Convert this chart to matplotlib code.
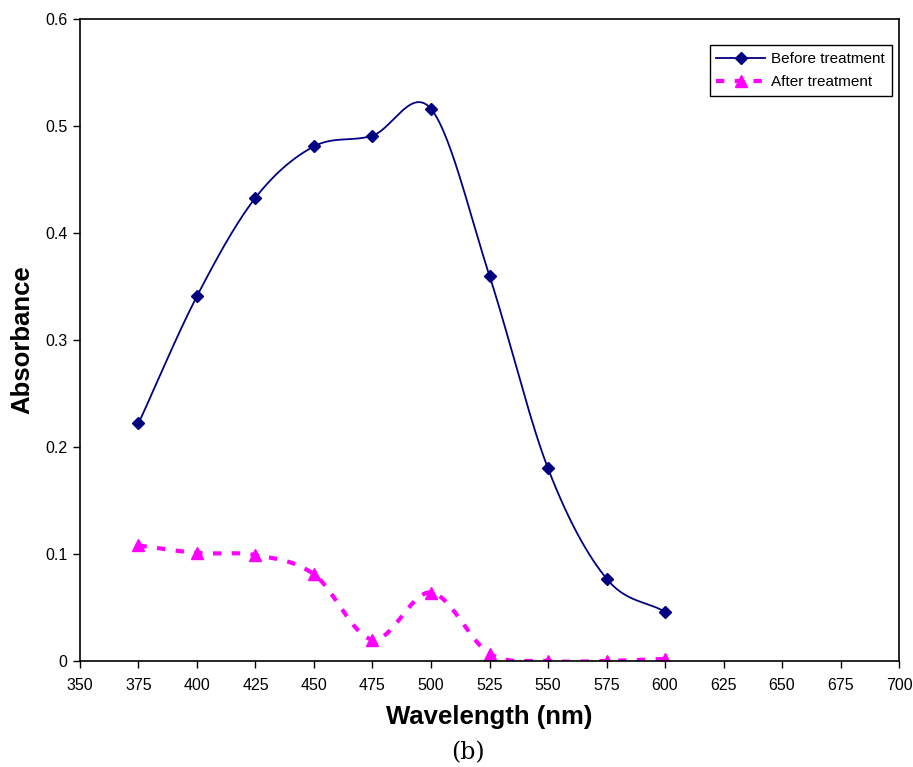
import numpy as np
import matplotlib
matplotlib.use('Agg')
from matplotlib import pyplot as plt
from matplotlib.ticker import FuncFormatter

plt.rcParams['font.family'] = ['Liberation Sans', 'DejaVu Sans']

wavelength = [375, 400, 425, 450, 475, 500, 525, 550, 575, 600]
before = [0.222, 0.341, 0.433, 0.481, 0.491, 0.516, 0.360, 0.180, 0.077, 0.046]
after = [0.108, 0.101, 0.099, 0.081, 0.020, 0.064, 0.007, 0.0, 0.0, 0.002]


def smooth(x, y, n=30):
    # Catmull-Rom curve through the points, like Excel's smoothed line
    x = np.asarray(x, float)
    y = np.asarray(y, float)
    px = np.concatenate([[2 * x[0] - x[1]], x, [2 * x[-1] - x[-2]]])
    py = np.concatenate([[2 * y[0] - y[1]], y, [2 * y[-1] - y[-2]]])
    xs, ys = [], []
    t = np.linspace(0, 1, n)
    for i in range(1, len(px) - 2):
        for p, out in ((px, xs), (py, ys)):
            p0, p1, p2, p3 = p[i - 1], p[i], p[i + 1], p[i + 2]
            out.append(0.5 * (2 * p1 + (-p0 + p2) * t
                              + (2 * p0 - 5 * p1 + 4 * p2 - p3) * t ** 2
                              + (-p0 + 3 * p1 - 3 * p2 + p3) * t ** 3))
    return np.concatenate(xs), np.concatenate(ys)


fig = plt.figure(figsize=(9.13, 7.67), dpi=100)
ax = fig.add_axes([0.0876, 0.1382, 0.8971, 0.8370])

bx, by = smooth(wavelength, before)
ax.plot(bx, by, color='#000080', lw=1.3)
ax.plot(wavelength, before, 'D', color='#000080', ms=6, ls='none')

axx, axy = smooth(wavelength, after)
ax.plot(axx, axy, color='#FF00FF', lw=3, ls=(0, (2, 2.5)))
ax.plot(wavelength, after, '^', color='#FF00FF', ms=8, ls='none')

# legend proxies
ax.plot([], [], color='#000080', lw=1.3, marker='D', ms=6, label='Before treatment')
ax.plot([], [], color='#FF00FF', lw=3, ls=(0, (2, 2.5)), marker='^', ms=8, label='After treatment')
leg = ax.legend(loc='upper right', bbox_to_anchor=(0.9915, 0.9595), fontsize=11,
                frameon=True, fancybox=False, edgecolor='black', framealpha=1,
                borderaxespad=0, handlelength=3.2, borderpad=0.45,
                labelspacing=0.6, handletextpad=0.4)
leg.get_frame().set_linewidth(1)

ax.set_xlim(350, 700)
ax.set_ylim(0, 0.6)
ax.set_xticks(np.arange(350, 701, 25))
ax.set_yticks(np.arange(0, 0.61, 0.1))
ax.yaxis.set_major_formatter(FuncFormatter(lambda v, p: '0' if v == 0 else f'{v:.1f}'))
ax.tick_params(direction='out', length=5, width=1, labelsize=11.5, pad=4)
ax.tick_params(axis='x', pad=7)
for s in ax.spines.values():
    s.set_linewidth(1.2)

ax.set_xlabel('Wavelength (nm)', fontsize=18.5, fontweight='bold', labelpad=9)
ax.set_ylabel('Absorbance', fontsize=18.5, fontweight='bold', labelpad=8)
fig.text(0.512, 0.004, '(b)', ha='center', va='bottom', fontsize=17,
         family=['DejaVu Serif'])

fig.savefig('out.png', dpi=100)
